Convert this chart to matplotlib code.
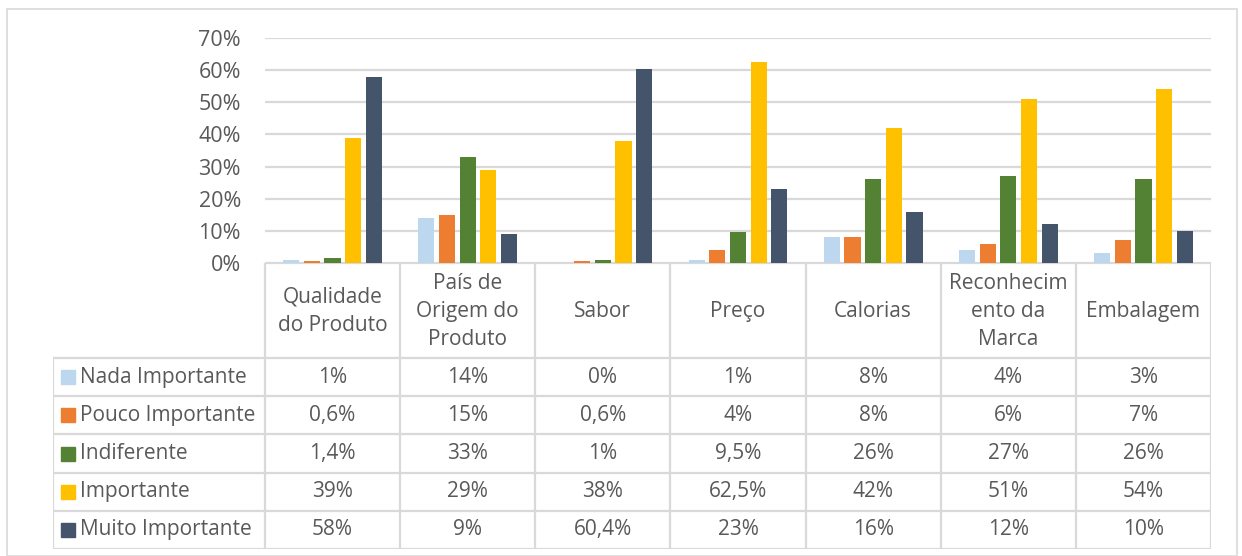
import numpy as np
import matplotlib.pyplot as plt
from matplotlib.patches import Rectangle
from matplotlib.transforms import blended_transform_factory

plt.rcParams['font.family'] = ['Open Sans', 'DejaVu Sans']

categories = ['Qualidade\ndo Produto', 'País de\nOrigem do\nProduto', 'Sabor', 'Preço',
              'Calorias', 'Reconhecim\nento da\nMarca', 'Embalagem']
series_names = ['Nada Importante', 'Pouco Importante', 'Indiferente', 'Importante', 'Muito Importante']
nada = [1, 14, 0, 1, 8, 4, 3]
pouco = [0.6, 15, 0.6, 4, 8, 6, 7]
indiferente = [1.4, 33, 1, 9.5, 26, 27, 26]
importante = [39, 29, 38, 62.5, 42, 51, 54]
muito = [58, 9, 60.4, 23, 16, 12, 10]
table_text = [
    ['1%', '14%', '0%', '1%', '8%', '4%', '3%'],
    ['0,6%', '15%', '0,6%', '4%', '8%', '6%', '7%'],
    ['1,4%', '33%', '1%', '9,5%', '26%', '27%', '26%'],
    ['39%', '29%', '38%', '62,5%', '42%', '51%', '54%'],
    ['58%', '9%', '60,4%', '23%', '16%', '12%', '10%'],
]
yticks = [0, 10, 20, 30, 40, 50, 60, 70]
colors = ['#BDD7EE', '#ED7D31', '#548235', '#FFC000', '#44546A']

W, H = 1242, 556
fig = plt.figure(figsize=(W / 100, H / 100), dpi=100)
text_c = '#595959'
grid_c = '#D9D9D9'
fs = 15

def fbox(x0, y0, x1, y1):
    # pixel box (top-left origin) -> figure fraction
    return [x0 / W, 1 - y1 / H, (x1 - x0) / W, (y1 - y0) / H]

# outer border
fig.patches.append(Rectangle((7 / W, 1 - 556 / H), 1230 / W, 547 / H, transform=fig.transFigure,
                             fill=False, edgecolor=grid_c, lw=1.2))

# bar area
ax = fig.add_axes(fbox(265, 38, 1211, 263))
x = np.arange(len(categories))
values = [nada, pouco, indiferente, importante, muito]
width = 0.12
pitch = 0.153
for i, vals in enumerate(values):
    ax.bar(x + (i - 2) * pitch, vals, width, color=colors[i], zorder=3)
ax.set_xlim(-0.5, len(categories) - 0.5)
ax.set_ylim(0, 70)
ax.set_yticks(yticks)
ax.set_yticklabels([])
ax.yaxis.grid(True, color=grid_c, lw=1.6, zorder=0)
ax.set_xticks([])
ax.tick_params(axis='y', length=0)
for s in ax.spines.values():
    s.set_visible(False)
trans = blended_transform_factory(ax.transAxes, ax.transData)
for t in yticks:
    ax.text(-24 / 946, t, '%d%%' % t, transform=trans, ha='right', va='center_baseline',
            fontsize=15.5, color=text_c)

# data table
colw = 946 / 7
left_w = 212 / colw
tx = fig.add_axes(fbox(53, 263, 1211, 549))
tx.set_xlim(-0.5 - left_w, len(categories) - 0.5)
tx.set_ylim(286, 0)
tx.axis('off')
hdr = 95
rowh = (286 - hdr) / 5
lc = dict(color=grid_c, lw=1.6)
# horizontal lines
tx.plot([-0.5, 6.5], [0, 0], **lc)
for r in range(6):
    yy = hdr + r * rowh
    tx.plot([-0.5 - left_w, 6.5], [yy, yy], **lc)
# vertical lines
for c in range(8):
    tx.plot([c - 0.5, c - 0.5], [0, 286], **lc)
tx.plot([-0.5 - left_w, -0.5 - left_w], [hdr, 286], **lc)

for c, name in enumerate(categories):
    tx.text(c, hdr / 2 + 1, name, ha='center', va='center', fontsize=fs, color=text_c, linespacing=1.45)
for r, name in enumerate(series_names):
    yc = hdr + (r + 0.5) * rowh
    tx.add_patch(Rectangle((-0.5 - left_w + 0.06, yc - 7), 0.104, 14, color=colors[r]))
    tx.text(-0.5 - left_w + 0.2, yc, name, ha='left', va='center', fontsize=fs, color=text_c)
    for c in range(len(categories)):
        tx.text(c, yc, table_text[r][c], ha='center', va='center', fontsize=fs, color=text_c)

fig.savefig('out.png', dpi=100)
